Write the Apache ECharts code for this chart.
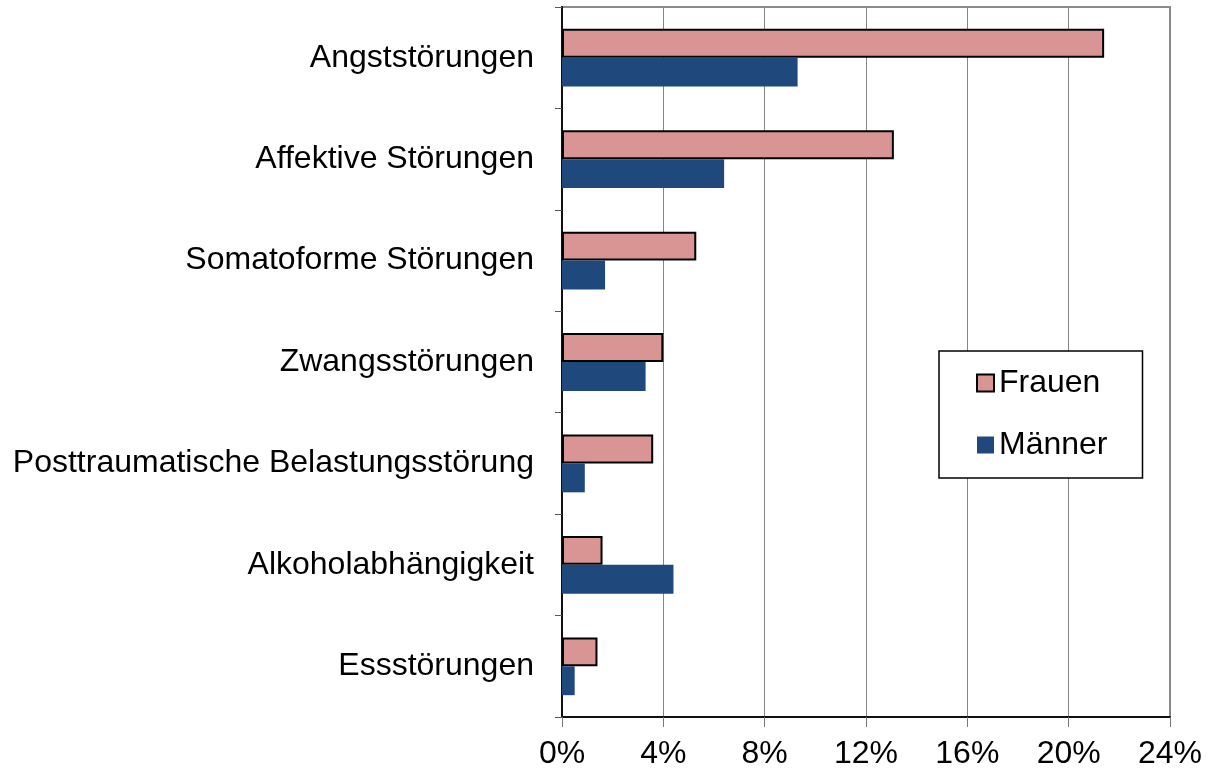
<!DOCTYPE html>
<html>
<head>
<meta charset="utf-8">
<script src="https://cdn.jsdelivr.net/npm/echarts@6/dist/echarts.min.js"></script>
<style>
  html, body { margin: 0; padding: 0; background: #fff; }
  #chart { width: 1211px; height: 771px; }
</style>
</head>
<body>
<div id="chart"></div>
<script>
// Störungsbilder, von oben nach unten
const categories = [
  'Angststörungen',
  'Affektive Störungen',
  'Somatoforme Störungen',
  'Zwangsstörungen',
  'Posttraumatische Belastungsstörung',
  'Alkoholabhängigkeit',
  'Essstörungen'
]
const frauen = [21.4, 13.1, 5.3, 4.0, 3.6, 1.6, 1.4]
const maenner = [9.3, 6.4, 1.7, 3.3, 0.9, 4.4, 0.5]
const xTicks = [0, 4, 8, 12, 16, 20, 24]

const font = 'Liberation Sans, Arial, sans-serif'
const myChart = echarts.init(document.getElementById('chart'))

const option = {
  animation: false,
  textStyle: { fontFamily: font },
  grid: {
    left: 562,
    right: 41,
    top: 7,
    bottom: 54,
    show: true,
    borderColor: '#8c8c8c',
    borderWidth: 2,
    containLabel: false
  },
  legend: {
    orient: 'vertical',
    left: 939,
    top: 351,
    padding: [16, 35, 17, 37],
    itemGap: 30,
    itemWidth: 17,
    itemHeight: 17,
    icon: 'rect',
    borderColor: '#000',
    borderWidth: 1.5,
    backgroundColor: '#fff',
    textStyle: { fontSize: 32, color: '#000', fontFamily: font },
    data: ['Frauen', 'Männer']
  },
  xAxis: {
    type: 'value',
    min: xTicks[0],
    max: xTicks[xTicks.length - 1],
    interval: 4,
    axisLine: { show: true, lineStyle: { color: '#111', width: 2 } },
    axisTick: { show: true, length: 10, lineStyle: { color: '#777' } },
    splitLine: { show: true, lineStyle: { color: '#868686', width: 1 } },
    axisLabel: {
      margin: 21,
      fontSize: 32,
      color: '#000',
      fontFamily: font,
      formatter: v => v + '%'
    }
  },
  yAxis: {
    type: 'category',
    inverse: true,
    data: categories,
    axisLine: { show: true, lineStyle: { color: '#111', width: 2 } },
    axisTick: { show: true, length: 7, lineStyle: { color: '#555' } },
    axisLabel: { margin: 28, fontSize: 32, color: '#000', fontFamily: font }
  },
  series: [
    {
      name: 'Frauen',
      type: 'bar',
      data: frauen,
      barGap: '0%',
      barCategoryGap: '43%',
      itemStyle: { color: '#D99594', borderColor: '#000', borderWidth: 2 }
    },
    {
      name: 'Männer',
      type: 'bar',
      data: maenner,
      itemStyle: { color: '#1F497D' }
    }
  ]
}

myChart.setOption(option)
</script>
</body>
</html>
